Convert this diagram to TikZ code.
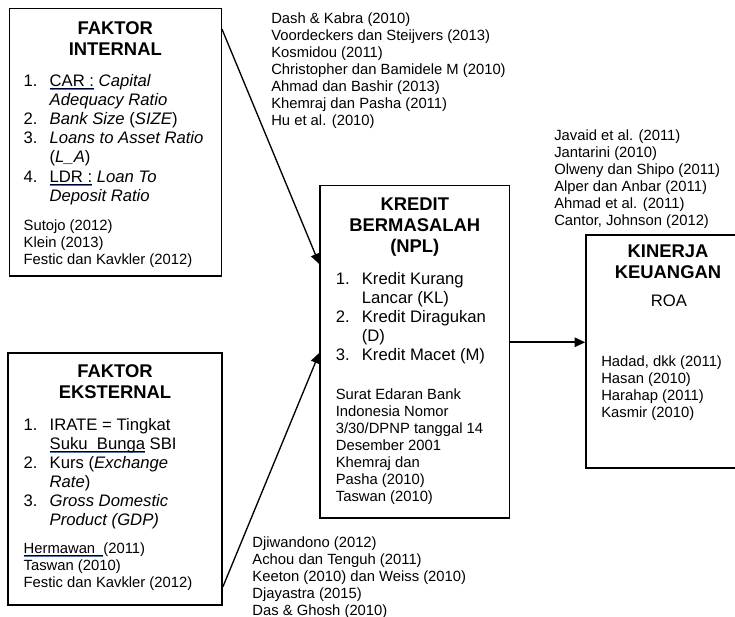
\documentclass[tikz,border=0pt]{standalone}
\usepackage{fontspec}
\setmainfont{Liberation Sans}
\usetikzlibrary{arrows.meta,calc,fit}
\definecolor{ulblue}{RGB}{66,114,214}
\newsavebox{\ulbox}
% black underline with a blue rule just beneath it
\newcommand{\markul}[1]{\sbox{\ulbox}{#1}\rlap{\rule[-1.7pt]{\wd\ulbox}{0.45pt}}\rlap{\color{ulblue}\rule[-2.7pt]{\wd\ulbox}{0.65pt}}\usebox{\ulbox}}
\newcommand{\itemno}[1]{\makebox[19.5pt][l]{#1}}
\newcommand{\itemcont}{\hspace*{19.5pt}}
\begin{document}
\begin{tikzpicture}[x=0.75pt,y=-0.75pt,
  box/.style={draw, line width=1.1pt, inner sep=0pt, rectangle},
  head/.style={font=\bfseries\fontsize{13.8}{15.9}\selectfont, align=center, inner sep=0pt, anchor=north},
  items/.style={font=\fontsize{12.5}{14.36}\selectfont, align=left, inner sep=0pt, anchor=north west},
  refs/.style={font=\fontsize{11.1}{12.75}\selectfont, align=left, inner sep=0pt, anchor=north west},
  link/.style={line width=1pt, -{Triangle[length=8pt,width=7pt]}}]
\useasboundingbox (0,0) rectangle (735,617);
\clip (0,0) rectangle (735,617);

% boxes
\node[box, fit={(9.4,8.7) (221.3,276.2)}] (intl) {};
\node[box, fit={(8,353) (222.2,604.8)}] (ext) {};
\node[box, fit={(320.2,185.7) (509.5,517.9)}] (npl) {};
\node[box, fit={(586,234.9) (760,467.9)}] (kin) {};

% internal factors
\node[head] (intlhead) at (115.3,20.9) {FAKTOR\\INTERNAL};
\node[items] (intllist) at (23.4,74) {%
  \itemno{1.}\markul{CAR :} \textit{Capital}\\
  \itemcont\textit{Adequacy Ratio}\\
  \itemno{2.}\textit{Bank Size} (\textit{SIZE})\\
  \itemno{3.}\textit{Loans to Asset Ratio}\\
  \itemcont(\textit{L\_A})\\
  \itemno{4.}\markul{LDR :} \textit{Loan To}\\
  \itemcont\textit{Deposit Ratio}};
\node[refs] (intlrefs) at (23.4,219.2) {Sutojo (2012)\\Klein (2013)\\Festic dan Kavkler (2012)};

% external factors
\node[head] (exthead) at (115,364.4) {FAKTOR\\EKSTERNAL};
\node[items] (extlist) at (23.4,417.8) {%
  \itemno{1.}IRATE = Tingkat\\
  \itemcont\markul{Suku\ \ Bunga} SBI\\
  \itemno{2.}Kurs (\textit{Exchange}\\
  \itemcont\textit{Rate})\\
  \itemno{3.}\textit{Gross Domestic}\\
  \itemcont\textit{Product (GDP)}};
\node[refs] (extrefs) at (23.4,542.7) {\markul{Hermawan\ \ }(2011)\\Taswan (2010)\\Festic dan Kavkler (2012)};

% non-performing loans
\node[head] (nplhead) at (414.8,197.2) {KREDIT\\BERMASALAH\\(NPL)};
\node[items] (npllist) at (335.6,271.8) {%
  \itemno{1.}Kredit Kurang\\
  \itemcont Lancar (KL)\\
  \itemno{2.}Kredit Diragukan\\
  \itemcont(D)\\
  \itemno{3.}Kredit Macet (M)};
\node[refs] (nplrefs) at (335.6,388.4) {Surat Edaran Bank\\Indonesia Nomor\\3/30/DPNP tanggal 14\\Desember 2001\\Khemraj dan\\Pasha (2010)\\Taswan (2010)};

% financial performance
\node[head] (kinhead) at (668,244.1) {KINERJA\\KEUANGAN};
\node[items, anchor=north] (roa) at (669,295) {ROA};
\node[refs] (kinrefs) at (601,355.3) {Hadad, dkk (2011)\\Hasan (2010)\\Harahap (2011)\\Kasmir (2010)};

% references along the connectors
\node[refs] (toprefs) at (271,13) {Dash \& Kabra (2010)\\Voordeckers dan Steijvers (2013)\\Kosmidou (2011)\\Christopher dan Bamidele M (2010)\\Ahmad dan Bashir (2013)\\Khemraj dan Pasha (2011)\\Hu et al. (2010)};
\node[refs] (botrefs) at (252.2,536.4) {Djiwandono (2012)\\Achou dan Tenguh (2011)\\Keeton (2010) dan Weiss (2010)\\Djayastra (2015)\\Das \& Ghosh (2010)};
\node[refs] (rightrefs) at (554,129.5) {Javaid et al. (2011)\\Jantarini (2010)\\Olweny dan Shipo (2011)\\Alper dan Anbar (2011)\\Ahmad et al. (2011)\\Cantor, Johnson (2012)};

% connectors
\draw[link] ($(intl.north east)+(0,21.3)$) -- ($(npl.north west)+(0,79.3)$);
\draw[link] ($(ext.south east)+(0,-18.8)$) -- ($(npl.north west)+(0,167.7)$);
\coordinate (nplout) at ($(npl.north east)+(0,157.3)$);
\draw[link, line width=1.3pt] (nplout) -- (nplout -| kin.west);
\end{tikzpicture}
\end{document}
